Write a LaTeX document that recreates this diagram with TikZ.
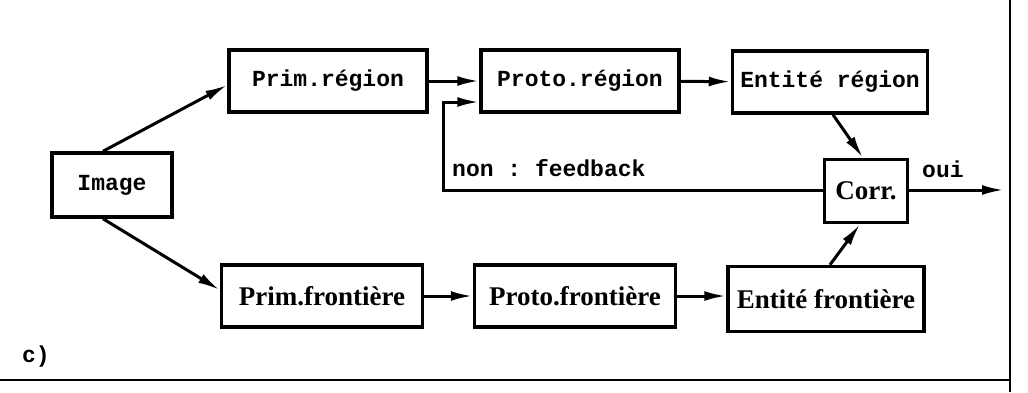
\documentclass[tikz,border=0pt]{standalone}
\usepackage{fontspec}
\setmonofont{Liberation Mono}
\setmainfont{Liberation Serif}
\usetikzlibrary{arrows.meta, positioning}
\tikzset{
  procbox/.style={rectangle, draw=black, line width=3.5pt, fill=white,
                  minimum width=198pt, minimum height=62pt, inner sep=2pt,
                  align=center, font=\fontsize{23}{27}\selectfont\ttfamily\bfseries},
  narrowbox/.style={procbox, font=\fontsize{27}{31}\selectfont\rmfamily\bfseries},
  link/.style={-{Latex[length=22pt,width=10pt]}, line width=3pt},
  linklabel/.style={font=\fontsize{23}{27}\selectfont\ttfamily\bfseries, inner sep=0pt},
}
\begin{document}
\begin{tikzpicture}[x=1pt, y=-1pt]
  \useasboundingbox (0,0) rectangle (1028,392);

  % --- frame ---
  \draw[line width=2.5pt] (1010,0) -- (1010,392);
  \draw[line width=2pt] (0,380) -- (1010,380);
  \node[linklabel, anchor=west] (lbl) at (22,357) {c)};

  % --- boxes ---
  \node[procbox, minimum width=120pt, minimum height=64pt] (img) at (112,185) {Image};
  \node[procbox] (prr) at (328,81)  {Prim.région};
  \node[procbox] (ptr) at (580,81)  {Proto.région};
  \node[procbox, minimum width=195pt] (enr) at (830,82) {Entité région};
  \node[narrowbox, minimum width=83pt, minimum height=63pt] (corr) at (866,191) {Corr.};
  \node[narrowbox, minimum width=201pt] (prf) at (322,296) {Prim.frontière};
  \node[narrowbox, minimum width=201pt] (ptf) at (575,296) {Proto.frontière};
  \node[narrowbox, minimum width=196pt, minimum height=65pt] (enf) at (826,299) {Entité frontière};

  % --- connectors ---
  \draw[link] ([xshift=-9pt]img.north) -- ([yshift=-4pt]prr.west);
  \draw[link] ([xshift=-9pt]img.south) -- ([yshift=6pt]prf.west);
  \draw[link] (prr) -- (ptr);
  \draw[link] (ptr) -- (enr);
  \draw[link] (prf) -- (ptf);
  \draw[link] (ptf.east) -- (enf.west |- ptf.east);
  \draw[link] ([xshift=3pt]enr.south) -- ([xshift=-3pt]corr.north);
  \draw[link] ([xshift=4pt]enf.north) -- ([xshift=-6pt]corr.south);

  % feedback loop
  \coordinate (fbk) at (443,190);
  \draw[link] (corr.west |- fbk) -- (fbk) |- ([yshift=-21pt]ptr.west);
  \node[linklabel, anchor=west] (nonfb) at (452,168) {non : feedback};

  % output
  \coordinate (out) at (1004,190);
  \draw[link] (corr.east |- out) -- (out);
  \node[linklabel, anchor=west] (oui) at (922,169) {oui};
\end{tikzpicture}
\end{document}
